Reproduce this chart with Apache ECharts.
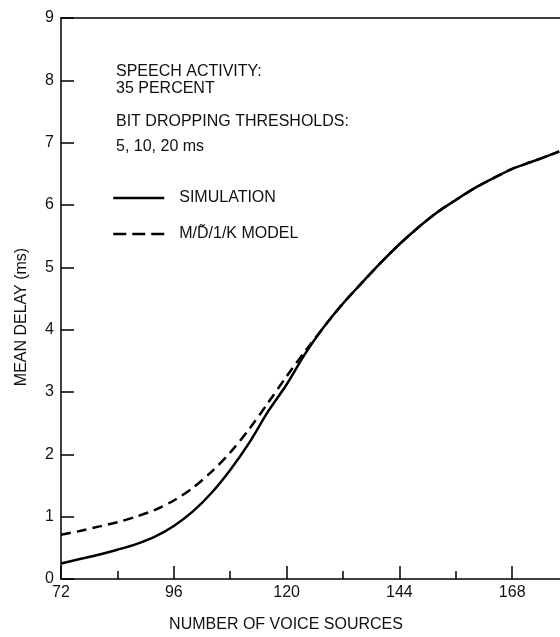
<!DOCTYPE html>
<html>
<head>
<meta charset="utf-8">
<script src="https://cdn.jsdelivr.net/npm/echarts@6/dist/echarts.min.js"></script>
<style>
  html, body { margin: 0; padding: 0; background: #fff; }
  #chart { width: 560px; height: 637px; }
</style>
</head>
<body>
<div id="chart"></div>
<script>
// number of voice sources
const sources = [72, 76, 80, 84, 88, 92, 96, 100, 104, 108, 112, 116, 120, 124, 128,
  132, 136, 140, 144, 148, 152, 156, 160, 164, 168, 172, 176, 178];
// mean delay, ms
const simulation = [0.25, 0.32, 0.39, 0.47, 0.56, 0.68, 0.85, 1.08, 1.38, 1.75, 2.18, 2.68, 3.12, 3.62, 4.05,
  4.42, 4.75, 5.07, 5.37, 5.64, 5.88, 6.08, 6.27, 6.43, 6.58, 6.69, 6.80, 6.86];
const model = [0.71, 0.77, 0.84, 0.91, 1.00, 1.11, 1.26, 1.46, 1.72, 2.03, 2.40, 2.82, 3.25, 3.66, 4.05,
  4.42, 4.75, 5.07, 5.37, 5.64, 5.88, 6.08, 6.27, 6.43, 6.58, 6.69, 6.80, 6.86];

const notes = ['SPEECH ACTIVITY:', '35 PERCENT', 'BIT DROPPING THRESHOLDS:', '5, 10, 20 ms'];
const noteY = [73, 90, 123, 148];

const FONT = 'Liberation Sans, Arial, sans-serif';
const INK = '#111';
const MODEL_NAME = 'M/D\u0303/1/K MODEL';

const chart = echarts.init(document.getElementById('chart'), null, { renderer: 'canvas' });

function pairs(xs, ys) {
  return xs.map((x, i) => [x, ys[i]]);
}

const option = {
  backgroundColor: '#fff',
  animation: false,
  // the plot runs past the right edge of the page, like the scanned figure
  grid: { left: 61, right: -65, top: 18, bottom: 58, outerBoundsMode: 'none', containLabel: false },
  legend: {
    data: [
      { name: 'SIMULATION' },
      { name: MODEL_NAME, lineStyle: { type: [13, 6] } }
    ],
    orient: 'vertical',
    left: 112,
    top: 190,
    padding: 0,
    itemWidth: 51,
    itemHeight: 14,
    itemGap: 20,
    itemStyle: { opacity: 0 },
    lineStyle: { width: 2.5 },
    textStyle: { fontFamily: FONT, fontSize: 16, color: INK, padding: [0, 0, 0, 10] }
  },
  xAxis: [
    {
      type: 'value',
      min: 72,
      max: 192,
      interval: 24,
      axisLine: { lineStyle: { color: '#000', width: 1.5 } },
      axisTick: { inside: true, length: 13, lineStyle: { color: '#000', width: 1.5 } },
      minorTick: { show: true, splitNumber: 2, length: 8, lineStyle: { color: '#000', width: 1.5 } },
      axisLabel: { margin: 6, fontFamily: FONT, fontSize: 16, color: INK },
      splitLine: { show: false }
    },
    {
      type: 'value',
      position: 'top',
      min: 72,
      max: 192,
      axisLine: { show: true, lineStyle: { color: '#000', width: 1.5 } },
      axisTick: { show: false },
      axisLabel: { show: false },
      splitLine: { show: false }
    }
  ],
  yAxis: {
    type: 'value',
    min: 0,
    max: 9,
    interval: 1,
    axisLine: { show: true, lineStyle: { color: '#000', width: 1.5 } },
    axisTick: { show: true, inside: true, length: 13, lineStyle: { color: '#000', width: 1.5 } },
    axisLabel: { margin: 7, fontFamily: FONT, fontSize: 16, color: INK },
    splitLine: { show: false }
  },
  graphic: [
    ...notes.map((t, i) => ({
      type: 'text',
      left: 116,
      top: noteY[i] - 9,
      style: { text: t, font: '16px ' + FONT, fill: INK }
    })),
    {
      type: 'text',
      x: 286,
      y: 625,
      style: { text: 'NUMBER OF VOICE SOURCES', font: '16px ' + FONT, fill: INK, align: 'center', verticalAlign: 'middle' }
    },
    {
      type: 'text',
      x: 22,
      y: 317,
      rotation: Math.PI / 2,
      style: { text: 'MEAN DELAY (ms)', font: '16px ' + FONT, fill: INK, align: 'center', verticalAlign: 'middle' }
    }
  ],
  series: [
    {
      name: 'SIMULATION',
      type: 'line',
      smooth: 0.3,
      symbol: 'none',
      data: pairs(sources, simulation),
      lineStyle: { color: '#000', width: 2.5 },
      itemStyle: { color: '#000' }
    },
    {
      name: MODEL_NAME,
      type: 'line',
      smooth: 0.3,
      symbol: 'none',
      data: pairs(sources, model),
      lineStyle: { color: '#000', width: 2.5, type: [10, 6] },
      itemStyle: { color: '#000' }
    }
  ]
};

chart.setOption(option);
</script>
</body>
</html>
